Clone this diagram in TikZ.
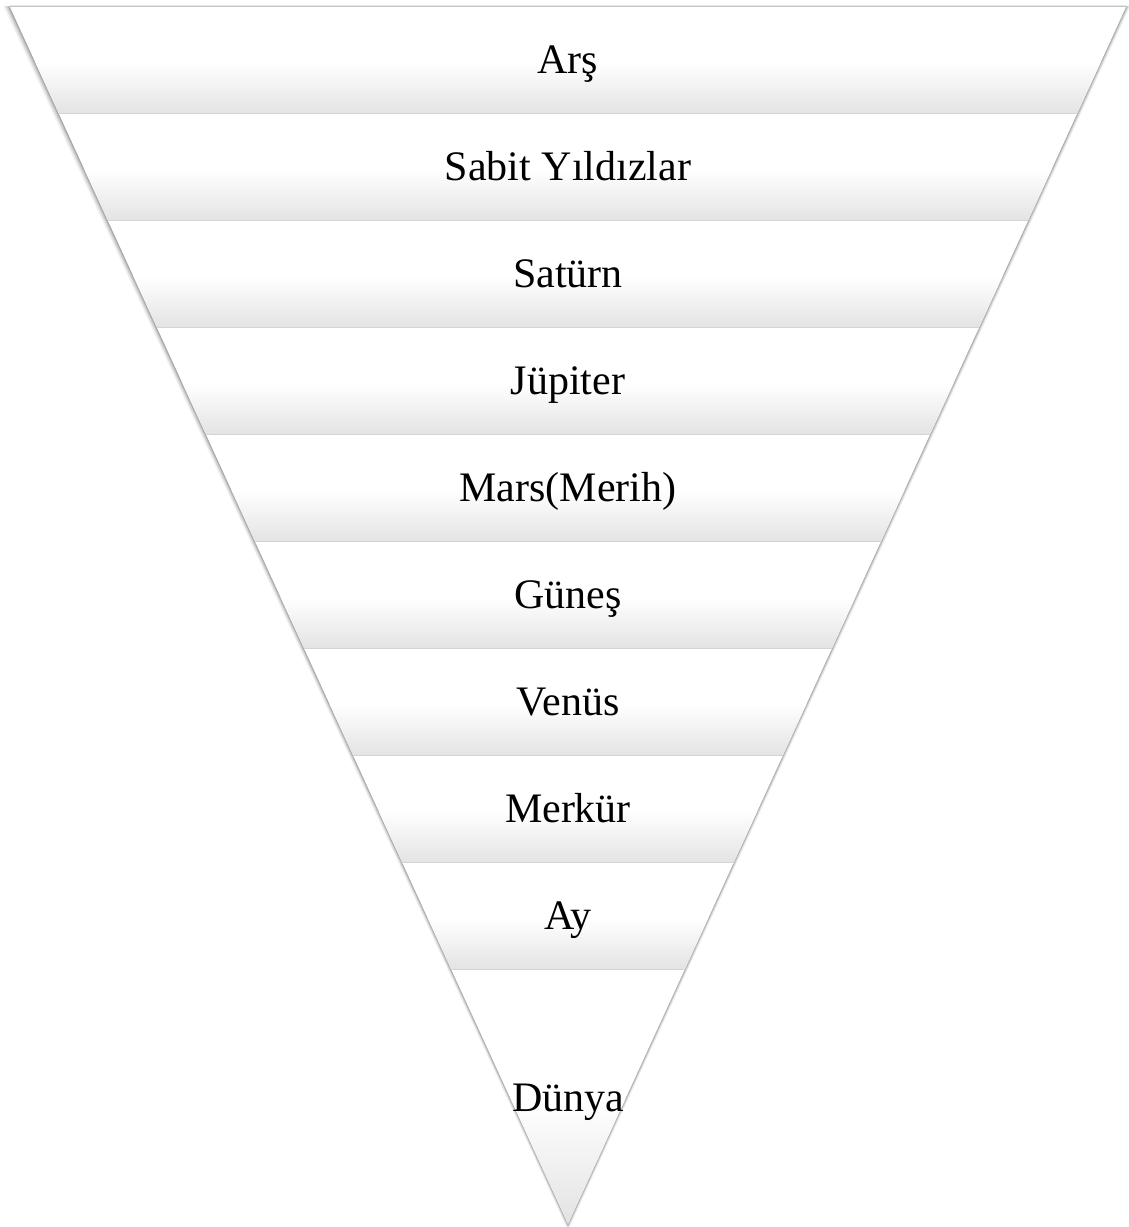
\documentclass[tikz,border=0pt]{standalone}
\usepackage{fontspec}
\setmainfont{Liberation Serif}
\begin{document}
\begin{tikzpicture}[x=1pt,y=-1pt,
  lbl/.style={font=\fontsize{42}{50}\selectfont, text=black, inner sep=0pt, anchor=base},
  sep/.style={draw=black!17, line width=1.2pt}]
\useasboundingbox (0,0) rectangle (1128,1227);
\fill[white] (0,0) rectangle (1128,1227);
% soft shadow around the funnel
\foreach \o/\a in {4/0.05,3/0.07,2/0.10,1/0.16}{
  \fill[black, opacity=\a] (10-\o*1.7,7-\o*0.3) -- (1126+\o*1.1,7-\o*0.3) -- (568,1224+\o*1.6) -- cycle;
}
\draw[black!10, line width=1.5pt] (10,5.5) -- (1126,5.5);
% bands
\foreach \i in {0,...,8}{
  \pgfmathsetmacro\ya{7+107*\i}
  \pgfmathsetmacro\yb{\ya+107}
  \pgfmathsetmacro\ym{\ya+55}
  \pgfmathsetmacro\xal{10+0.45851*(\ya-7)}
  \pgfmathsetmacro\xar{1126-0.45851*(\ya-7)}
  \pgfmathsetmacro\xbl{10+0.45851*(\yb-7)}
  \pgfmathsetmacro\xbr{1126-0.45851*(\yb-7)}
  \fill[white] (\xal,\ya) -- (\xar,\ya) -- (\xbr,\yb) -- (\xbl,\yb) -- cycle;
  \begin{scope}
    \clip (\xal,\ya) -- (\xar,\ya) -- (\xbr,\yb) -- (\xbl,\yb) -- cycle;
    \shade[top color=white, bottom color=black!11] (0,\ym) rectangle (1128,\yb);
  \end{scope}
  \draw[sep] (\xbl,\yb) -- (\xbr,\yb);
}
% last triangle
\pgfmathsetmacro\ya{970}
\pgfmathsetmacro\xal{10+0.45851*(\ya-7)}
\pgfmathsetmacro\xar{1126-0.45851*(\ya-7)}
\fill[white] (\xal,\ya) -- (\xar,\ya) -- (568,1224) -- cycle;
\begin{scope}
  \clip (\xal,\ya) -- (\xar,\ya) -- (568,1224) -- cycle;
  \shade[top color=white, bottom color=black!11] (0,1100) rectangle (1128,1224);
\end{scope}
% labels
\node[lbl] (ars) at (568,73) {Arş};
\node[lbl] (sabit) at (568,180) {Sabit Yıldızlar};
\node[lbl] (saturn) at (568,287) {Satürn};
\node[lbl] (jupiter) at (568,394) {Jüpiter};
\node[lbl] (mars) at (568,501) {Mars(Merih)};
\node[lbl] (gunes) at (568,608) {Güneş};
\node[lbl] (venus) at (568,715) {Venüs};
\node[lbl] (merkur) at (568,822) {Merkür};
\node[lbl] (ay) at (568,929) {Ay};
\node[lbl] (dunya) at (568,1111) {Dünya};
\end{tikzpicture}
\end{document}
